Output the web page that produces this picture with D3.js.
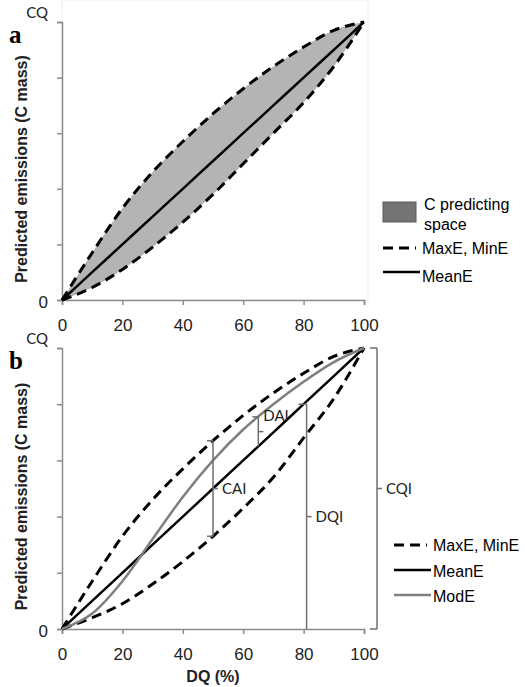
<!DOCTYPE html>
<html>
<head>
<meta charset="utf-8">
<script src="https://cdn.jsdelivr.net/npm/d3@7"></script>
<style>
  body { margin: 0; background: #fff; }
  text { font-family: "Liberation Sans", Arial, sans-serif; }
  .cal { font-family: Lato, "Open Sans", sans-serif; }
</style>
</head>
<body>
<div id="chart"></div>
<script>
// DQ (%) positions
const dq = [0, 10, 20, 30, 40, 50, 60, 70, 80, 90, 100];
// panel a series (% of CQ)
const maxA = [0, 17, 33, 46, 57, 67, 76, 84, 91, 97, 100];
const minA = [0, 4.5, 11, 19, 28, 38, 49, 60, 71, 84, 100];
const meanA = [0, 10, 20, 30, 40, 50, 60, 70, 80, 90, 100];
// panel b series
const maxB = [0, 17, 33, 46, 57, 67, 76, 84, 91, 97, 100];
const minB = [0, 4, 9, 16, 24, 33, 43, 54, 68, 82, 100];
const meanB = [0, 10, 20, 30, 40, 50, 60, 70, 80, 90, 100];
const modB = [0, 5.5, 17, 32, 47, 60, 71, 80, 88, 95, 100];
const xTicks = [0, 20, 40, 60, 80, 100];
const yTicks = [0, 20, 40, 60, 80, 100];

const width = 525, height = 687;
const svg = d3.select("#chart").append("svg")
  .attr("width", width)
  .attr("height", height);

const x = d3.scaleLinear().domain([0, 100]).range([62, 364]);
const yA = d3.scaleLinear().domain([0, 100]).range([300, 22]);
const yB = d3.scaleLinear().domain([0, 100]).range([629, 348]);

const axisColor = "#8c8c8c";

function drawAxes(y, label, showFrame) {
  const g = svg.append("g");
  if (showFrame) {
    g.append("rect")
      .attr("x", x(0)).attr("y", y(100) - 22)
      .attr("width", x(100) - x(0) + 4).attr("height", y(0) - y(100) + 22)
      .attr("fill", "none").attr("stroke", "#efefef");
  }
  const xa = g.append("g")
    .attr("transform", `translate(0,${y(0)})`)
    .call(d3.axisBottom(x).tickValues(xTicks).tickSize(5).tickPadding(14));
  const ya = g.append("g")
    .attr("transform", `translate(${x(0)},0)`)
    .call(d3.axisLeft(y).tickValues(yTicks).tickSize(5).tickPadding(6)
      .tickFormat(d => d === 0 ? "0" : d === 100 ? "CQ" : ""));
  [xa, ya].forEach(a => {
    a.select(".domain").attr("stroke", axisColor).attr("stroke-width", 1.5);
    a.selectAll(".tick line").attr("stroke", axisColor).attr("stroke-width", 1.5);
    a.selectAll("text").attr("fill", "#222").style("font-size", "17px")
      .style("font-family", "'Liberation Sans', Arial, sans-serif");
  });
  ya.selectAll(".tick text").filter(d => d === 100)
    .attr("class", "cal")
    .style("font-family", "Lato, sans-serif")
    .style("font-size", "15px")
    .attr("x", -14).attr("dy", "-0.3em");
  ya.selectAll(".tick text").filter(d => d === 0).attr("x", -14).attr("dy", "0.45em");

  svg.append("text")
    .attr("transform", `translate(27,${(y(0) + y(100)) / 2 + 8}) rotate(-90)`)
    .attr("text-anchor", "middle")
    .style("font-size", "16px").style("font-weight", "bold")
    .attr("fill", "#222")
    .text("Predicted emissions (C mass)");

  svg.append("text")
    .attr("x", 9).attr("y", y(100) + 21)
    .style("font-family", "'Liberation Serif', 'DejaVu Serif', serif")
    .style("font-size", "25px").style("font-weight", "bold")
    .text(label);
}

function series(arr, y) {
  return d3.line()
    .x((d, i) => x(dq[i]))
    .y(d => y(d))
    .curve(d3.curveMonotoneX)(arr);
}

// Panel a
drawAxes(yA, "a", true);

const area = d3.area()
  .x((d, i) => x(dq[i]))
  .y0((d, i) => yA(minA[i]))
  .y1((d, i) => yA(maxA[i]))
  .curve(d3.curveMonotoneX);
svg.append("path").attr("d", area(dq)).attr("fill", "#b4b4b4");

svg.append("path").attr("d", series(meanA, yA))
  .attr("fill", "none").attr("stroke", "#000").attr("stroke-width", 2.5);
[maxA, minA].forEach(s => {
  svg.append("path").attr("d", series(s, yA))
    .attr("fill", "none").attr("stroke", "#000").attr("stroke-width", 3)
    .attr("stroke-dasharray", "10,6");
});

// legend a
const la = svg.append("g");
la.append("rect").attr("x", 383).attr("y", 202).attr("width", 33).attr("height", 20)
  .attr("fill", "#747474").attr("stroke", "#5a5a5a").attr("stroke-width", 1);
la.append("text").attr("x", 424).attr("y", 210).style("font-size", "16px").text("C predicting");
la.append("text").attr("x", 424).attr("y", 230).style("font-size", "16px").text("space");
la.append("line").attr("x1", 383).attr("x2", 416).attr("y1", 248).attr("y2", 248)
  .attr("stroke", "#000").attr("stroke-width", 3).attr("stroke-dasharray", "10,6");
la.append("text").attr("x", 422).attr("y", 254).style("font-size", "16px").text("MaxE, MinE");
la.append("line").attr("x1", 383).attr("x2", 420).attr("y1", 272).attr("y2", 272)
  .attr("stroke", "#000").attr("stroke-width", 2.5);
la.append("text").attr("x", 422).attr("y", 282).style("font-size", "16px").text("MeanE");

// Panel b
drawAxes(yB, "b", false);

svg.append("text")
  .attr("x", (x(0) + x(100)) / 2).attr("y", 682)
  .attr("text-anchor", "middle")
  .style("font-size", "16px").style("font-weight", "bold")
  .attr("fill", "#222")
  .text("DQ (%)");

[maxB, minB].forEach(s => {
  svg.append("path").attr("d", series(s, yB))
    .attr("fill", "none").attr("stroke", "#000").attr("stroke-width", 3)
    .attr("stroke-dasharray", "10,6");
});
svg.append("path").attr("d", series(meanB, yB))
  .attr("fill", "none").attr("stroke", "#000").attr("stroke-width", 2.5);
svg.append("path").attr("d", series(modB, yB))
  .attr("fill", "none").attr("stroke", "#7f7f7f").attr("stroke-width", 2.5);

// brackets
const brColor = "#6e6e6e";
function bracket(bx, yTop, yBot, hookTop, hookBot, midY, lbl, lblX, lblY) {
  const g = svg.append("g").attr("stroke", brColor).attr("stroke-width", 1.5).attr("fill", "none");
  g.append("line").attr("x1", bx).attr("x2", bx).attr("y1", yTop).attr("y2", yBot);
  if (hookTop) g.append("line").attr("x1", bx + hookTop).attr("x2", bx).attr("y1", yTop).attr("y2", yTop);
  if (hookBot) g.append("line").attr("x1", bx + hookBot).attr("x2", bx).attr("y1", yBot).attr("y2", yBot);
  g.append("line").attr("x1", bx).attr("x2", bx + 5).attr("y1", midY).attr("y2", midY);
  svg.append("text").attr("class", "cal")
    .attr("x", bx + lblX).attr("y", lblY + 5)
    .style("font-size", "15px").attr("fill", "#222")
    .text(lbl);
}
const i50 = dq.indexOf(50), i80 = dq.indexOf(80);
// CAI at DQ 50
bracket(x(50), yB(maxB[i50]), yB(minB[i50]), -6, -6,
  (yB(maxB[i50]) + yB(minB[i50])) / 2, "CAI", 9, (yB(maxB[i50]) + yB(minB[i50])) / 2);
// DAI at DQ 65
const mod65 = (modB[6] + modB[7]) / 2, mean65 = (meanB[6] + meanB[7]) / 2;
bracket(x(65), yB(mod65), yB(mean65), -6, 0,
  (yB(mod65) + yB(mean65)) / 2, "DAI", 5, yB(mod65) - 1);
// DQI at DQ 80
bracket(x(80) + 3, yB(meanB[i80]), yB(0), -8, 0,
  (yB(meanB[i80]) + yB(0)) / 2, "DQI", 9, (yB(meanB[i80]) + yB(0)) / 2);
// CQI at right
bracket(x(100) + 13, yB(100), yB(0), -7, -7,
  yB(50), "CQI", 9, yB(50));

// legend b
const lb = svg.append("g");
lb.append("line").attr("x1", 394).attr("x2", 427).attr("y1", 545).attr("y2", 545)
  .attr("stroke", "#000").attr("stroke-width", 3).attr("stroke-dasharray", "10,6");
lb.append("text").attr("x", 433).attr("y", 551).style("font-size", "16px").text("MaxE, MinE");
lb.append("line").attr("x1", 394).attr("x2", 431).attr("y1", 570).attr("y2", 570)
  .attr("stroke", "#000").attr("stroke-width", 2.5);
lb.append("text").attr("x", 433).attr("y", 577).style("font-size", "16px").text("MeanE");
lb.append("line").attr("x1", 394).attr("x2", 431).attr("y1", 595).attr("y2", 595)
  .attr("stroke", "#7f7f7f").attr("stroke-width", 2.5);
lb.append("text").attr("x", 433).attr("y", 602).style("font-size", "16px").text("ModE");
</script>
</body>
</html>
